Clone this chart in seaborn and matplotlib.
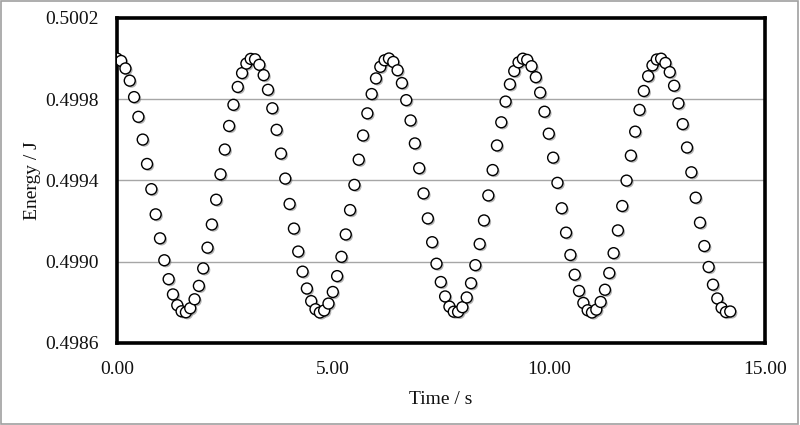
import numpy as np
import pandas as pd
import matplotlib
matplotlib.use('Agg')
import matplotlib.pyplot as plt
import matplotlib.patheffects as pe
import seaborn as sns

# time samples every 0.1 s, energy values
time_s = [round(0.1 * i, 1) for i in range(143)]
energy_j = [
    0.500000, 0.499988, 0.499951, 0.499891, 0.499810, 0.499713, 0.499601, 0.499481,
    0.499357, 0.499233, 0.499115, 0.499007, 0.498914, 0.498839, 0.498786, 0.498756,
    0.498751, 0.498771, 0.498815, 0.498881, 0.498967, 0.499069, 0.499183, 0.499305,
    0.499430, 0.499552, 0.499668, 0.499772, 0.499860, 0.499928, 0.499975, 0.499998,
    0.499996, 0.499969, 0.499918, 0.499846, 0.499755, 0.499649, 0.499532, 0.499409,
    0.499284, 0.499163, 0.499050, 0.498951, 0.498868, 0.498806, 0.498766, 0.498750,
    0.498760, 0.498794, 0.498851, 0.498929, 0.499024, 0.499134, 0.499254, 0.499378,
    0.499502, 0.499621, 0.499730, 0.499825, 0.499902, 0.499959, 0.499991, 0.500000,
    0.499983, 0.499942, 0.499879, 0.499795, 0.499695, 0.499582, 0.499460, 0.499336,
    0.499213, 0.499096, 0.498990, 0.498900, 0.498829, 0.498779, 0.498754, 0.498753,
    0.498776, 0.498824, 0.498894, 0.498983, 0.499087, 0.499203, 0.499326, 0.499451,
    0.499572, 0.499686, 0.499788, 0.499873, 0.499938, 0.499981, 0.499999, 0.499993,
    0.499962, 0.499908, 0.499832, 0.499738, 0.499630, 0.499512, 0.499388, 0.499263,
    0.499143, 0.499033, 0.498936, 0.498856, 0.498797, 0.498761, 0.498750, 0.498764,
    0.498802, 0.498862, 0.498944, 0.499042, 0.499154, 0.499274, 0.499399, 0.499522,
    0.499640, 0.499747, 0.499840, 0.499913, 0.499966, 0.499995, 0.499999, 0.499978,
    0.499933, 0.499866, 0.499779, 0.499677, 0.499562, 0.499440, 0.499315, 0.499192,
    0.499077, 0.498974, 0.498887, 0.498819, 0.498773, 0.498752, 0.498755,
]
x_ticks = [0, 5, 10, 15]
y_ticks = [0.4986, 0.4990, 0.4994, 0.4998, 0.5002]

df = pd.DataFrame({'Time': time_s, 'Energy': energy_j})

sns.set_style('white')
plt.rcParams['font.family'] = ['Liberation Serif', 'DejaVu Serif']

fig = plt.figure(figsize=(8, 4.25), dpi=100)
ax = fig.add_axes([0.146, 0.193, 0.81, 0.765])

sns.scatterplot(data=df, x='Time', y='Energy', ax=ax, marker='o', s=62,
                color='white', edgecolor='black', linewidth=1.0, zorder=3)
ax.collections[0].set_path_effects([
    pe.SimplePatchShadow(offset=(1.2, -1.2), shadow_rgbFace='0.35', alpha=0.45),
    pe.Normal()])

ax.set_xlim(0, 15)
ax.set_ylim(0.4986, 0.5002)
ax.set_xticks(x_ticks)
ax.set_xticklabels(['%.2f' % v for v in x_ticks])
ax.set_yticks(y_ticks)
ax.set_yticklabels(['%.4f' % v for v in y_ticks])

for v in y_ticks[1:-1]:
    ax.axhline(v, color='#a6a6a6', linewidth=1.0, zorder=1)

for sp in ax.spines.values():
    sp.set_visible(True)
    sp.set_color('black')
    sp.set_linewidth(2.6)

ax.tick_params(axis='both', which='major', direction='in', length=4, width=2,
               color='black', labelsize=14, labelcolor='#111111')
ax.tick_params(axis='x', pad=13)
ax.tick_params(axis='y', pad=13)

ax.set_xlabel('Time / s', fontsize=14, color='#111111', labelpad=9)
ax.set_ylabel('Energy / J', fontsize=14, color='#111111', labelpad=3)

# thin grey frame around the whole picture
fig.patches.append(plt.Rectangle((0.001, 0.002), 0.997, 0.996, transform=fig.transFigure,
                                 fill=False, edgecolor='#a0a0a0', linewidth=1.2))

fig.savefig('out.png', dpi=100)
